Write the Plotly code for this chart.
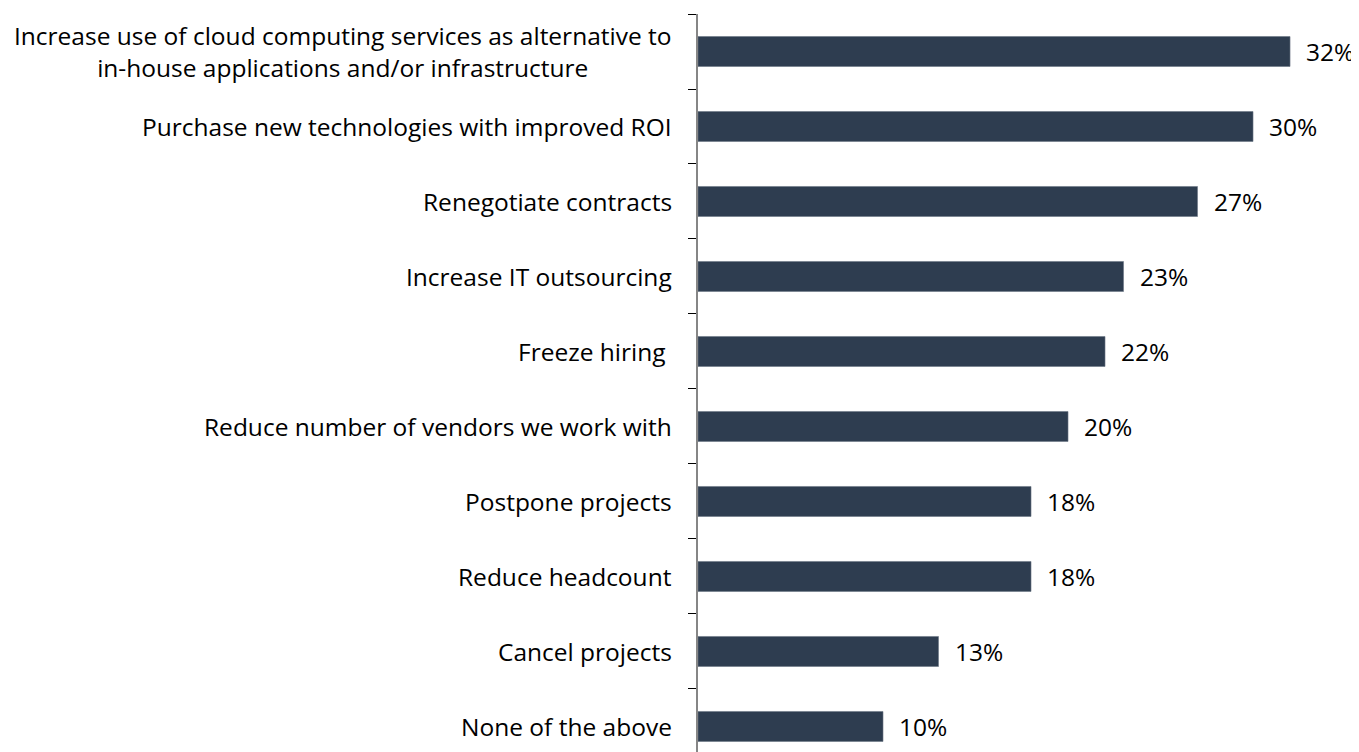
import plotly.graph_objects as go

categories = [
    "Increase use of cloud computing services as alternative to<br>in-house applications and/or infrastructure",
    "Purchase new technologies with improved ROI",
    "Renegotiate contracts",
    "Increase IT outsourcing",
    "Freeze hiring\u00a0",
    "Reduce number of vendors we work with",
    "Postpone projects",
    "Reduce headcount",
    "Cancel projects",
    "None of the above",
]
values = [32, 30, 27, 23, 22, 20, 18, 18, 13, 10]
value_labels = ["32%", "30%", "27%", "23%", "22%", "20%", "18%", "18%", "13%", "10%"]

FONT = "Open Sans"
FS = 24.5

fig = go.Figure(go.Bar(
    x=values,
    y=categories,
    orientation="h",
    marker=dict(color="#2E3D50", line=dict(color="#6B7785", width=0.6)),
    hoverinfo="skip",
))

annotations = []
for c, v, t in zip(categories, values, value_labels):
    annotations.append(dict(
        x=0, xref="paper", y=c, yref="y", text=c, showarrow=False,
        xanchor="right", yanchor="middle", align="center", xshift=-24,
        font=dict(family=FONT, size=FS, color="#000000"),
    ))
    annotations.append(dict(
        x=v, xref="x", y=c, yref="y", text=t, showarrow=False,
        xanchor="left", yanchor="middle", xshift=14,
        font=dict(family=FONT, size=FS, color="#000000"),
    ))

fig.update_layout(
    width=1359, height=752,
    margin=dict(l=690, r=0, t=6, b=0),
    paper_bgcolor="white", plot_bgcolor="white",
    bargap=0.6,
    showlegend=False,
    annotations=annotations,
    xaxis=dict(range=[0, 36.16], visible=False, showgrid=False, zeroline=False),
    yaxis=dict(
        type="category",
        autorange=False,
        range=[9.447, -0.5],
        showticklabels=False,
        tickson="boundaries",
        ticks="outside", ticklen=8, tickcolor="#000000", tickwidth=1,
        showline=True, linecolor="#868686", linewidth=1.5,
        showgrid=False, zeroline=False,
    ),
)

fig.write_html("out.html")
